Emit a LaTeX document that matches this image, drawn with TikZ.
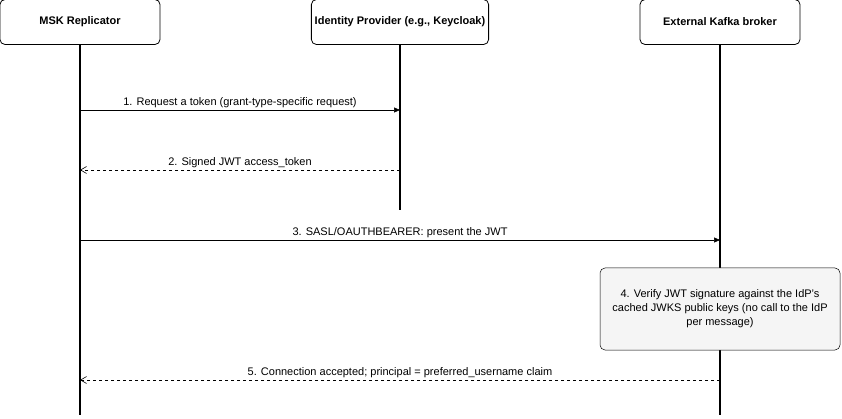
\documentclass[tikz,border=0pt]{standalone}
\usepackage{fontspec}
\setmainfont{Liberation Sans}
\usetikzlibrary{arrows.meta}
\begin{document}
\begin{tikzpicture}[x=1pt,y=-1pt,
 actor/.style={draw,rounded corners=5pt,minimum width=160pt,minimum height=45pt,font=\fontsize{11}{13}\selectfont\bfseries,line width=0.8pt},
 life/.style={line width=1.4pt},
 msg/.style={-{Triangle[length=6pt,width=5pt]},line width=0.6pt},
 ret/.style={-{Straight Barb[length=6pt,width=7pt]},dashed,line width=0.6pt},
 lbl/.style={font=\fontsize{11}{13}\selectfont,above,inner sep=2pt}]
\useasboundingbox (0,0) rectangle (842,419);
\node[actor] (a) at (80,22) {MSK Replicator};
\node[actor] (b) at (400,22) {Identity Provider (e.g., Keycloak)};
\node[actor] (c) at (720,22) {External Kafka broker};
\coordinate (aend) at (80,415);
\coordinate (bend) at (400,210);
\coordinate (cend) at (720,415);
\draw[life] (a.south) -- (aend);
\draw[life] (b.south) -- (bend);
\draw[life] (c.south) -- (cend);
\coordinate (a1) at (80,110); \coordinate (b1) at (400,110);
\coordinate (a2) at (80,170); \coordinate (b2) at (400,170);
\coordinate (a3) at (80,240); \coordinate (c3) at (720,240);
\coordinate (a5) at (80,380); \coordinate (c5) at (720,380);
\draw[msg] (a1) -- node[lbl]{1. Request a token (grant-type-specific request)} (b1);
\draw[ret] (b2) -- node[lbl]{2. Signed JWT access\_token} (a2);
\draw[msg] (a3) -- node[lbl]{3. SASL/OAUTHBEARER: present the JWT} (c3);
\node[draw,fill=black!4,rounded corners=5pt,minimum width=240pt,minimum height=82pt,align=center,font=\fontsize{11}{14}\selectfont,line width=0.5pt] (n) at (720,309) {4. Verify JWT signature against the IdP's\\cached JWKS public keys (no call to the IdP\\per message)};
\draw[ret] (c5) -- node[lbl]{5. Connection accepted; principal = preferred\_username claim} (a5);
\end{tikzpicture}
\end{document}
